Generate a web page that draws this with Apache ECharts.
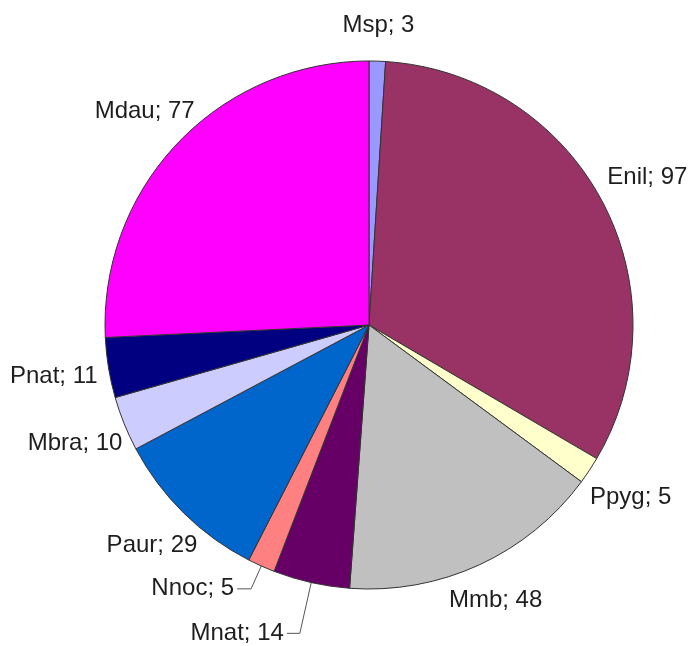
<!DOCTYPE html>
<html>
<head>
<meta charset="utf-8">
<script src="https://cdn.jsdelivr.net/npm/echarts@6/dist/echarts.min.js"></script>
<style>
  html, body { margin: 0; padding: 0; background: #fff; }
  #chart { width: 693px; height: 646px; }
</style>
</head>
<body>
<div id="chart"></div>
<script>
// slices, clockwise from 12 o'clock
const names = ['Msp', 'Enil', 'Ppyg', 'Mmb', 'Mnat', 'Nnoc', 'Paur', 'Mbra', 'Pnat', 'Mdau']
const values = [3, 97, 5, 48, 14, 5, 29, 10, 11, 77]
const colors = ['#9999FF', '#993366', '#FFFFCC', '#C0C0C0', '#660066', '#FF8080', '#0066CC', '#CCCCFF', '#000080', '#FF00FF']

// labels that hang on a leader line: [length, length2]
const leaders = { Mnat: [52, 13], Nnoc: [25, 14] }

const cx = 369
const cy = 325
const R = 264
// labels sit on an ellipse round the pie (a bit flatter top/bottom)
const labelRx = 320
const labelRy = 300

const total = values.reduce((a, b) => a + b, 0)
// mid angle of each slice, degrees clockwise from the top
const midAngles = []
let acc = 0
values.forEach(v => {
  midAngles.push((acc + v / 2) / total * 360)
  acc += v
})

const chart = echarts.init(document.getElementById('chart'))

const option = {
  backgroundColor: '#fff',
  animation: false,
  series: [
    {
      type: 'pie',
      center: [cx, cy],
      radius: R,
      startAngle: 90,
      clockwise: true,
      avoidLabelOverlap: false,
      itemStyle: {
        borderColor: '#333',
        borderWidth: 1
      },
      label: {
        show: true,
        position: 'outside',
        formatter: '{b}; {c}',
        fontFamily: 'Liberation Sans, Arial, sans-serif',
        fontSize: 24,
        color: '#1e1e1e',
        distanceToLabelLine: 3
      },
      labelLine: { show: false },
      emphasis: { disabled: true },
      data: names.map((n, i) => {
        const item = {
          name: n,
          value: values[i],
          itemStyle: { color: colors[i] }
        }
        if (leaders[n]) {
          item.labelLine = {
            show: true,
            length: leaders[n][0],
            length2: leaders[n][1],
            lineStyle: { color: '#555', width: 1 }
          }
        }
        return item
      }),
      labelLayout: function (params) {
        const n = names[params.dataIndex]
        if (leaders[n]) return {}
        const a = midAngles[params.dataIndex] * Math.PI / 180
        const s = Math.sin(a)
        const c = Math.cos(a)
        const d = 1 / Math.sqrt((s / labelRx) ** 2 + (c / labelRy) ** 2)
        return {
          x: cx + d * s,
          y: cy - d * c,
          align: 'center',
          verticalAlign: 'middle'
        }
      }
    }
  ]
}

chart.setOption(option)
</script>
</body>
</html>
